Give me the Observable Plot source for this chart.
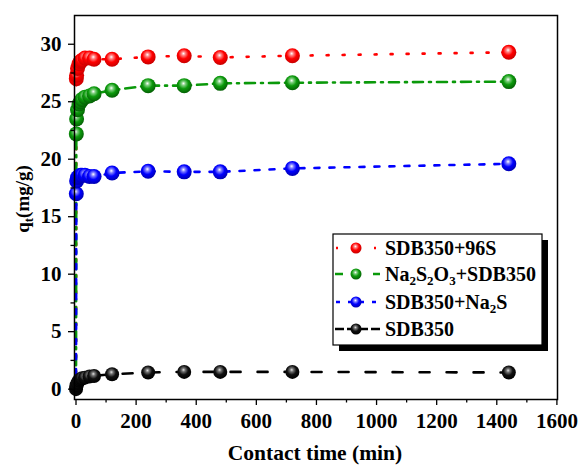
<!DOCTYPE html>
<html>
<head>
<meta charset="utf-8">
<script src="https://cdn.jsdelivr.net/npm/d3@7"></script>
<script src="https://cdn.jsdelivr.net/npm/@observablehq/plot@0.6"></script>
<style>
  html, body { margin: 0; padding: 0; background: #fff; }
  #chart { width: 580px; height: 468px; }
  #chart svg text, #chart svg tspan { font-family: "Liberation Serif", "Times New Roman", serif !important; font-weight: bold; }
</style>
</head>
<body>
<div id="chart"></div>
<script>
const times = [0, 1, 2, 5, 10, 15, 20, 30, 45, 60, 120, 240, 360, 480, 720, 1440];
const qRed   = [0, 27.0, 27.3, 27.9, 28.3, 28.5, 28.6, 28.8, 28.8, 28.7, 28.7, 28.9, 29.0, 28.85, 29.0, 29.3];
const qGreen = [0, 22.2, 23.5, 24.3, 24.8, 25.0, 25.2, 25.4, 25.5, 25.7, 26.0, 26.4, 26.4, 26.6, 26.65, 26.75];
const qBlue  = [0, 17.0, 18.1, 18.4, 18.5, 18.6, 18.6, 18.6, 18.5, 18.5, 18.8, 18.95, 18.9, 18.9, 19.2, 19.6];
const qBlack = [0, 0.2, 0.35, 0.55, 0.75, 0.85, 0.95, 1.0, 1.1, 1.15, 1.3, 1.45, 1.5, 1.5, 1.5, 1.45];

const xMajor = [0, 200, 400, 600, 800, 1000, 1200, 1400, 1600];
const xMinor = [100, 300, 500, 700, 900, 1100, 1300, 1500];
const yMajor = [0, 5, 10, 15, 20, 25, 30];
const yMinor = [2.5, 7.5, 12.5, 17.5, 22.5, 27.5];

const seriesNames = ["SDB350+96S", "Na2S2O3+SDB350", "SDB350+Na2S", "SDB350"];

const mk = (q) => times.map((t, i) => ({t, q: q[i]}));
const series = [
  {name: seriesNames[0], data: mk(qRed),   color: "#ff0000", grad: "gRed",   dash: "2,14",      r: 7.5},
  {name: seriesNames[1], data: mk(qGreen), color: "#0a990a", grad: "gGreen", dash: "10,6,2,6",  r: 7.5},
  {name: seriesNames[2], data: mk(qBlue),  color: "#0000ff", grad: "gBlue",  dash: "5,10",      r: 7.5},
  {name: seriesNames[3], data: mk(qBlack), color: "#000000", grad: "gBlack", dash: "10,17",     r: 7}
];

const marks = [];
for (const s of series) {
  marks.push(Plot.line(s.data, {x: "t", y: "q", stroke: s.color, strokeWidth: 2.6, strokeDasharray: s.dash}));
}
for (const s of series) {
  const pts = s.name === "SDB350" ? s.data : s.data.filter(d => d.t > 0);
  marks.push(Plot.dot(pts, {x: "t", y: "q", r: s.r, fill: `url(#${s.grad})`, stroke: "none"}));
}

const fmt = d3.format("d");
const chart = Plot.plot({
  width: 580,
  height: 468,
  marginLeft: 74,
  marginRight: 23,
  marginTop: 15,
  marginBottom: 69,
  style: {fontFamily: "Liberation Serif", fontWeight: "bold", fontSize: "21px", color: "#000", background: "#fff"},
  x: {domain: [-5, 1602], label: null},
  y: {domain: [-0.9, 32.5], label: null},
  marks: [
    ...marks,
    Plot.frame({stroke: "#000", strokeWidth: 1.5}),
    Plot.axisX(xMajor, {tickSize: 6, tickPadding: 8, stroke: "#000", strokeWidth: 1.3, label: null, fontSize: 21, tickFormat: fmt}),
    Plot.axisX(xMinor, {tickSize: 3.5, tickFormat: () => "", stroke: "#000", strokeWidth: 1.3, label: null}),
    Plot.axisY(yMajor, {tickSize: 6, tickPadding: 7, stroke: "#000", strokeWidth: 1.3, label: null, fontSize: 21, tickFormat: fmt}),
    Plot.axisY(yMinor, {tickSize: 3.5, tickFormat: () => "", stroke: "#000", strokeWidth: 1.3, label: null})
  ]
});

document.getElementById("chart").appendChild(chart);

const svg = d3.select(chart);
const defs = svg.insert("defs", ":first-child");
const gradStops = {
  gRed:   ["#ffffff", "#ff8080", "#ff0000", "#c80000"],
  gGreen: ["#ffffff", "#7fcf7f", "#0c9a0c", "#056005"],
  gBlue:  ["#ffffff", "#8080ff", "#0000ff", "#0000b0"],
  gBlack: ["#e0e0e0", "#707070", "#101010", "#000000"]
};
for (const [id, cols] of Object.entries(gradStops)) {
  const g = defs.append("radialGradient").attr("id", id)
    .attr("cx", "45%").attr("cy", "40%").attr("r", "60%").attr("fx", "45%").attr("fy", "35%");
  g.append("stop").attr("offset", "0%").attr("stop-color", cols[0]);
  g.append("stop").attr("offset", "22%").attr("stop-color", cols[1]);
  g.append("stop").attr("offset", "55%").attr("stop-color", cols[2]);
  g.append("stop").attr("offset", "100%").attr("stop-color", cols[3]);
}

const font = "Liberation Serif";

// Y axis title
const yt = svg.append("text")
  .attr("transform", "translate(29,199) rotate(-90)")
  .attr("text-anchor", "middle")
  .attr("font-family", font).attr("font-weight", "bold").attr("font-size", 19).attr("fill", "#000");
yt.append("tspan").text("q");
yt.append("tspan").attr("font-size", 13).attr("dy", 4).text("t");
yt.append("tspan").attr("dy", -4).text("(mg/g)");

// X axis title
svg.append("text")
  .attr("x", 315).attr("y", 460)
  .attr("text-anchor", "middle")
  .attr("font-family", font).attr("font-weight", "bold").attr("font-size", 21.5).attr("fill", "#000")
  .text("Contact time (min)");

// Legend
const L = {x: 333, y: 234, w: 209, h: 111};
const lg = svg.append("g").attr("text-anchor", "start");
lg.append("rect").attr("x", L.x + 6).attr("y", L.y + 6).attr("width", L.w).attr("height", L.h).attr("fill", "#000");
lg.append("rect").attr("x", L.x).attr("y", L.y).attr("width", L.w).attr("height", L.h).attr("fill", "#fff").attr("stroke", "#000").attr("stroke-width", 1.2);
const rowsY = [248, 274, 302, 329];
const legDash = ["2,17", "8,30,8,0", "4,8", "9,3"];
series.forEach((s, i) => {
  const cy = rowsY[i];
  lg.append("line").attr("x1", 335).attr("x2", 380).attr("y1", cy).attr("y2", cy)
    .attr("stroke", s.color).attr("stroke-width", 2.6)
    .attr("stroke-dasharray", legDash[i])
    .attr("stroke-dashoffset", i === 0 ? -1 : i === 2 ? -1 : 0);
  lg.append("circle").attr("cx", 356).attr("cy", cy).attr("r", 5.5).attr("fill", `url(#${s.grad})`);
  const t = lg.append("text").attr("x", 385).attr("y", cy + 7).attr("text-anchor", "start")
    .attr("font-family", font).attr("font-weight", "bold").attr("font-size", 20).attr("fill", "#000");
  if (i === 1) {
    t.append("tspan").text("Na");
    t.append("tspan").attr("font-size", 13).attr("dy", 4).text("2");
    t.append("tspan").attr("dy", -4).text("S");
    t.append("tspan").attr("font-size", 13).attr("dy", 4).text("2");
    t.append("tspan").attr("dy", -4).text("O");
    t.append("tspan").attr("font-size", 13).attr("dy", 4).text("3");
    t.append("tspan").attr("dy", -4).text("+SDB350");
  } else if (i === 2) {
    t.append("tspan").text("SDB350+Na");
    t.append("tspan").attr("font-size", 13).attr("dy", 4).text("2");
    t.append("tspan").attr("dy", -4).text("S");
  } else {
    t.text(s.name);
  }
});
</script>
</body>
</html>
